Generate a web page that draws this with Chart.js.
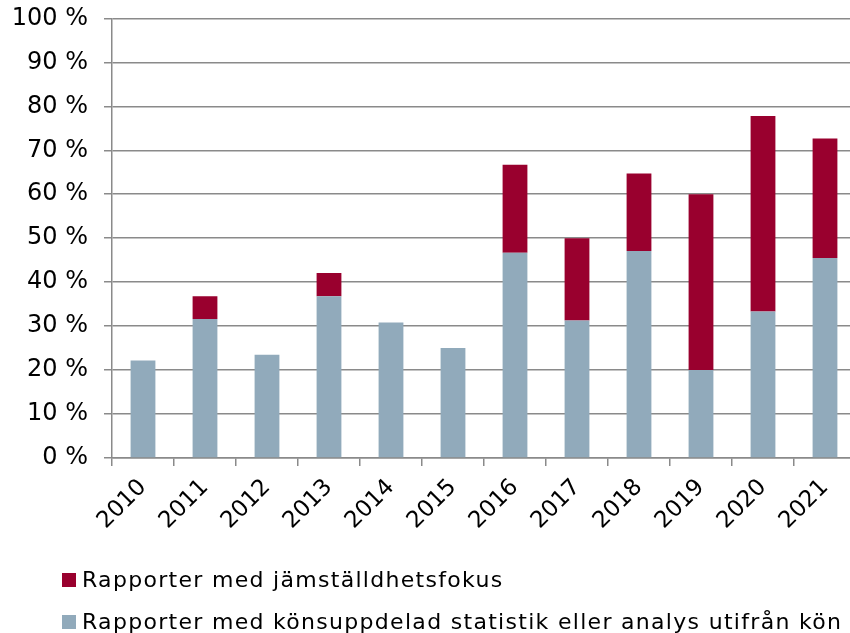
<!DOCTYPE html>
<html lang="sv">
<head>
<meta charset="UTF-8">
<title>chart</title>
<style>
  body { margin: 0; background: #fff; overflow: hidden; width: 850px; height: 633px; }
  #wrap { position: absolute; left: 0; top: -12px; width: 860px; height: 572px; }
  #legend { position: absolute; left: 62px; top: 559px; font-family: "DejaVu Sans", sans-serif; font-size: 22px; letter-spacing: 1.3px; color: #000; }
  .item { height: 42px; line-height: 42px; white-space: nowrap; }
  .box { display: inline-block; width: 14px; height: 14px; margin-right: 6px; vertical-align: middle; position: relative; top: -1px; }
</style>
</head>
<body>
<div id="wrap"><canvas id="myChart" width="860" height="572"></canvas></div>
<div id="legend"></div>
<script src="https://cdn.jsdelivr.net/npm/chart.js"></script>
<script>
const years = ['2010','2011','2012','2013','2014','2015','2016','2017','2018','2019','2020','2021'];
// share of reports (%), bottom segment
const konsuppdelad = [22.2, 31.6, 23.5, 36.8, 30.8, 25.0, 46.7, 31.3, 47.1, 20.0, 33.3, 45.5];
// top segment (difference up to the total bar height)
const jamstalldhet = [null, 5.2, null, 5.3, null, null, 20.0, 18.7, 17.6, 40.0, 44.5, 27.2];
const yTicks = [0, 10, 20, 30, 40, 50, 60, 70, 80, 90, 100];

const labelBlue = 'Rapporter med könsuppdelad statistik eller analys utifrån kön';
const labelRed = 'Rapporter med jämställdhetsfokus';
const blue = '#91aabb';
const red = '#99002e';
const gray = '#8a8a8a';

const data = {
  labels: years,
  datasets: [
    { label: labelBlue, data: konsuppdelad, backgroundColor: blue, stack: 's' },
    { label: labelRed, data: jamstalldhet, backgroundColor: red, stack: 's' }
  ]
};

const config = {
  type: 'bar',
  data,
  options: {
    responsive: false,
    animation: false,
    layout: { padding: { top: 8, left: 0, right: 4, bottom: 0 } },
    datasets: { bar: { categoryPercentage: 1, barPercentage: 0.4 } },
    plugins: { legend: { display: false }, tooltip: { enabled: false } },
    scales: {
      x: {
        stacked: true,
        afterFit: s => { s.height = 102; },
        grid: { offset: true, drawOnChartArea: false, color: gray, lineWidth: 1.5, tickLength: 8 },
        border: { color: gray, width: 1.5 },
        ticks: {
          color: '#000', maxRotation: 45, minRotation: 45, padding: 8,
          font: { family: 'DejaVu Sans', size: 23 }
        }
      },
      y: {
        stacked: true,
        min: 0, max: 100,
        afterFit: s => { s.width = 112; },
        afterBuildTicks: s => { s.ticks = yTicks.map(v => ({ value: v })); },
        grid: { color: gray, lineWidth: 1.5, tickLength: 8 },
        border: { color: gray, width: 1.5 },
        ticks: {
          color: '#000', padding: 16,
          font: { family: 'DejaVu Sans', size: 24 },
          callback: v => v + ' %'
        }
      }
    }
  }
};

const myChart = new Chart(document.getElementById('myChart'), config);

// legend, top series first
const legend = document.getElementById('legend');
[[labelRed, red], [labelBlue, blue]].forEach(([t, c]) => {
  const row = document.createElement('div');
  row.className = 'item';
  row.innerHTML = '<span class="box" style="background:' + c + '"></span>' + t;
  legend.appendChild(row);
});
</script>
</body>
</html>
